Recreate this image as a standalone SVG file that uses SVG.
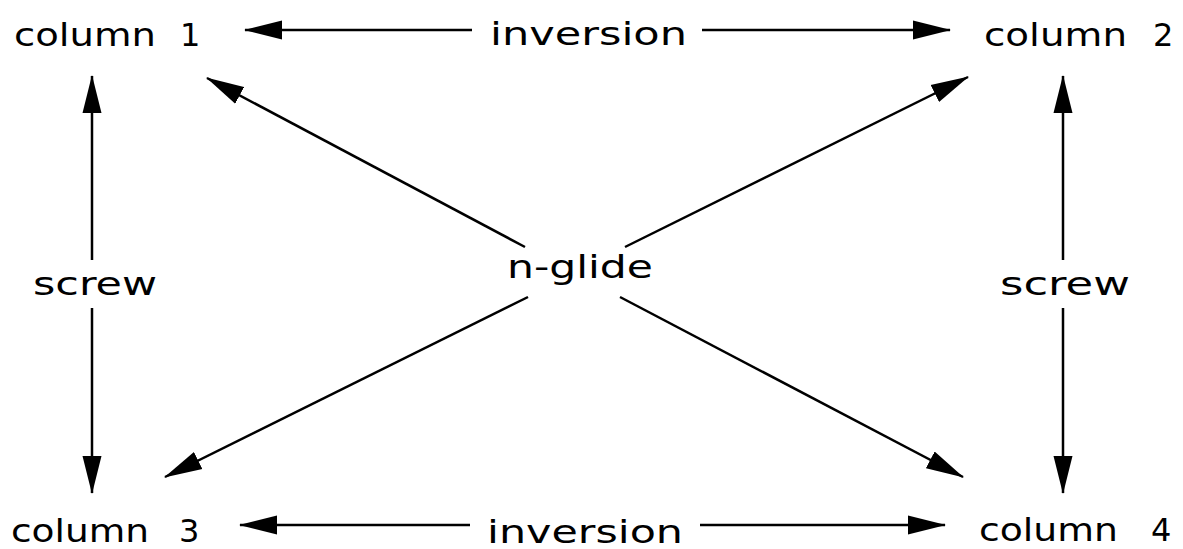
<svg xmlns="http://www.w3.org/2000/svg" width="1183" height="549" viewBox="0 0 1183 549">
<style>
text{font-family:"DejaVu Sans",sans-serif;font-size:32px;fill:#000}
.c line{stroke:#000;stroke-width:2.5;marker-end:url(#ah)}
</style>
<defs>
<marker id="ah" markerUnits="userSpaceOnUse" markerWidth="38" markerHeight="20" refX="37" refY="9.5" orient="auto" viewBox="0 0 38 19">
<path d="M0,0 L38,9.5 L0,19 z" fill="#000"/>
</marker>
</defs>
<rect width="1183" height="549" fill="#fff"/>
<g class="c" id="connectors">
<line x1="472" y1="30" x2="245" y2="30"/>
<line x1="702" y1="30" x2="950" y2="30"/>
<line x1="470" y1="525" x2="240" y2="525"/>
<line x1="700" y1="525" x2="945" y2="525"/>
<line x1="92" y1="260" x2="92" y2="76"/>
<line x1="92" y1="308" x2="92" y2="493"/>
<line x1="1063" y1="260" x2="1063" y2="76"/>
<line x1="1063" y1="308" x2="1063" y2="493"/>
<line x1="525" y1="247" x2="207" y2="78"/>
<line x1="625" y1="247" x2="968" y2="77"/>
<line x1="528" y1="297" x2="165" y2="477"/>
<line x1="620" y1="297" x2="963" y2="477"/>
</g>
<g id="column1"><text y="46"><tspan x="14" textLength="142" lengthAdjust="spacingAndGlyphs">column</tspan><tspan x="180">1</tspan></text></g>
<g id="column2"><text y="46"><tspan x="984" textLength="143" lengthAdjust="spacingAndGlyphs">column</tspan><tspan x="1153">2</tspan></text></g>
<g id="column3"><text y="542"><tspan x="11" textLength="138" lengthAdjust="spacingAndGlyphs">column</tspan><tspan x="179">3</tspan></text></g>
<g id="column4"><text y="541"><tspan x="979" textLength="139" lengthAdjust="spacingAndGlyphs">column</tspan><tspan x="1151">4</tspan></text></g>
<g id="inversion-top"><text x="490" y="45" textLength="197" lengthAdjust="spacingAndGlyphs">inversion</text></g>
<g id="inversion-bottom"><text x="487" y="543" textLength="196" lengthAdjust="spacingAndGlyphs">inversion</text></g>
<g id="screw-left"><text x="33" y="295" textLength="124" lengthAdjust="spacingAndGlyphs">screw</text></g>
<g id="screw-right"><text x="1000" y="295" textLength="130" lengthAdjust="spacingAndGlyphs">screw</text></g>
<g id="nglide"><text x="507" y="278" textLength="146" lengthAdjust="spacingAndGlyphs">n-glide</text></g>
</svg>
